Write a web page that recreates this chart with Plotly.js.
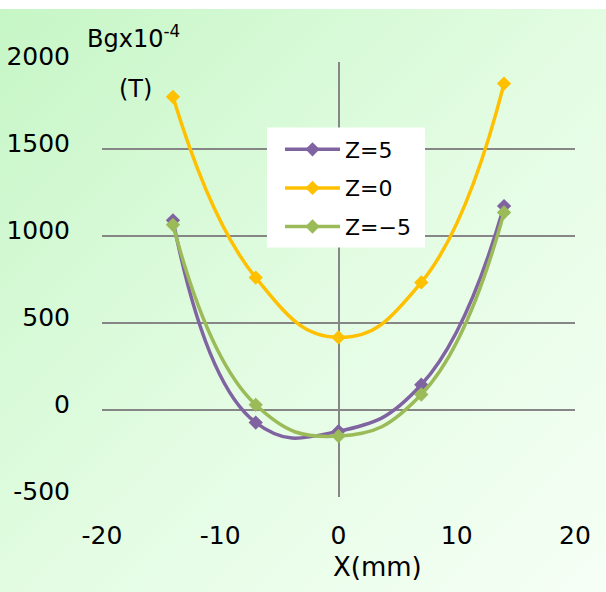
<!DOCTYPE html>
<html>
<head>
<meta charset="utf-8">
<script src="https://cdn.plot.ly/plotly-3.0.1.min.js"></script>
<style>
  html, body { margin: 0; padding: 0; background: #ffffff; }
  #wrap { position: relative; width: 606px; height: 592px; }
  #bg {
    position: absolute; left: 0; top: 9px; width: 606px; height: 583px;
    background: linear-gradient(135deg, #c6f6c6 0%, #e2fce2 50%, #f6fff6 100%);
  }
  #chart { position: absolute; left: 0; top: 0; width: 606px; height: 592px; }
</style>
</head>
<body>
<div id="wrap">
  <div id="bg"></div>
  <div id="chart"></div>
</div>
<script>
// Measurement positions along X (mm)
const xPositions = [-14, -7, 0, 7, 14];

// Bg values (x10^-4 T) for each Z plane
const bgZ5 = [1090, -72, -122, 145, 1172];
const bgZ0 = [1800, 761, 417, 733, 1876];
const bgZm5 = [1064, 30, -150, 89, 1135];

const seriesNames = ['Z=5', 'Z=0', 'Z=\u22125'];
const seriesColors = ['#8064a2', '#ffc000', '#9bbb59'];

// Axis ticks
const xTickVals = [-20, -10, 0, 10, 20];
const xTickText = ['-20', '-10', '0', '10', '20'];
const yTickVals = [-500, 0, 500, 1000, 1500, 2000];
const yTickText = ['-500', '0', '500', '1000', '1500', '2000'];

const gridColor = '#868686';
const font = 'DejaVu Sans, Verdana, sans-serif';

const seriesValues = [bgZ5, bgZ0, bgZm5];
const traces = seriesValues.map((vals, i) => ({
  type: 'scatter',
  mode: 'lines+markers',
  x: xPositions,
  y: vals,
  name: seriesNames[i],
  legendgroup: 'g' + i,
  line: { color: seriesColors[i], width: 3.5, shape: 'spline', smoothing: 1.3 },
  marker: { symbol: 'diamond', size: 11, color: seriesColors[i] }
}));

const layout = {
  width: 606,
  height: 592,
  margin: { l: 102, r: 31, t: 62, b: 95 },
  paper_bgcolor: 'rgba(0,0,0,0)',
  plot_bgcolor: 'rgba(0,0,0,0)',
  font: { family: font, color: '#000000', size: 25 },
  showlegend: true,
  legend: {
    x: (280 - 102) / 473, xanchor: 'left',
    y: (497.5 - 129) / 435, yanchor: 'top',
    bgcolor: 'rgba(0,0,0,0)',
    borderwidth: 0,
    font: { family: font, size: 22, color: '#000000' },
    traceorder: 'grouped',
    tracegroupgap: 7,
    itemwidth: 55
  },
  xaxis: {
    range: [-20, 20],
    tickvals: xTickVals,
    ticktext: xTickText,
    showgrid: false,
    zeroline: true,
    zerolinecolor: gridColor,
    zerolinewidth: 2,
    showline: false,
    ticks: '',
    ticklabelstandoff: 21,
    tickfont: { family: font, size: 25 },
    fixedrange: true
  },
  // short ticks hanging under the Bg = 0 line
  xaxis2: {
    overlaying: 'x',
    anchor: 'free',
    position: 0.2,
    range: [-20, 20],
    tickvals: xTickVals,
    showticklabels: false,
    ticks: 'outside',
    ticklen: 7,
    tickwidth: 2,
    tickcolor: gridColor,
    showgrid: false,
    zeroline: false,
    showline: false
  },
  yaxis: {
    range: [-500, 2000],
    tickvals: yTickVals,
    ticktext: yTickText,
    showgrid: true,
    gridcolor: gridColor,
    gridwidth: 2,
    zeroline: true,
    zerolinecolor: gridColor,
    zerolinewidth: 2,
    showline: false,
    ticks: '',
    ticklabelstandoff: 31,
    ticklabelshift: -6,
    tickfont: { family: font, size: 25 },
    fixedrange: true
  },
  shapes: [{
    type: 'rect', xref: 'paper', yref: 'paper', layer: 'above',
    x0: (267 - 102) / 473, x1: (425 - 102) / 473,
    y0: (497.5 - 248) / 435, y1: (497.5 - 128) / 435,
    fillcolor: '#ffffff', line: { width: 0 }
  }],
  annotations: [
    {
      text: 'Bgx10<sup>-4</sup>', xref: 'paper', yref: 'paper',
      x: (85 - 102) / 473, xanchor: 'left',
      y: (497.5 - 37) / 435, yanchor: 'middle',
      showarrow: false, font: { family: font, size: 24 }
    },
    {
      text: '(T)', xref: 'paper', yref: 'paper',
      x: (135 - 102) / 473, xanchor: 'center',
      y: (497.5 - 90) / 435, yanchor: 'middle',
      showarrow: false, font: { family: font, size: 24 }
    },
    {
      text: 'X(mm)', xref: 'paper', yref: 'paper',
      x: (377 - 102) / 473, xanchor: 'center',
      y: (497.5 - 567) / 435, yanchor: 'middle',
      showarrow: false, font: { family: font, size: 26 }
    }
  ]
};

Plotly.newPlot('chart', traces, layout, { displayModeBar: false, staticPlot: true });
</script>
</body>
</html>
